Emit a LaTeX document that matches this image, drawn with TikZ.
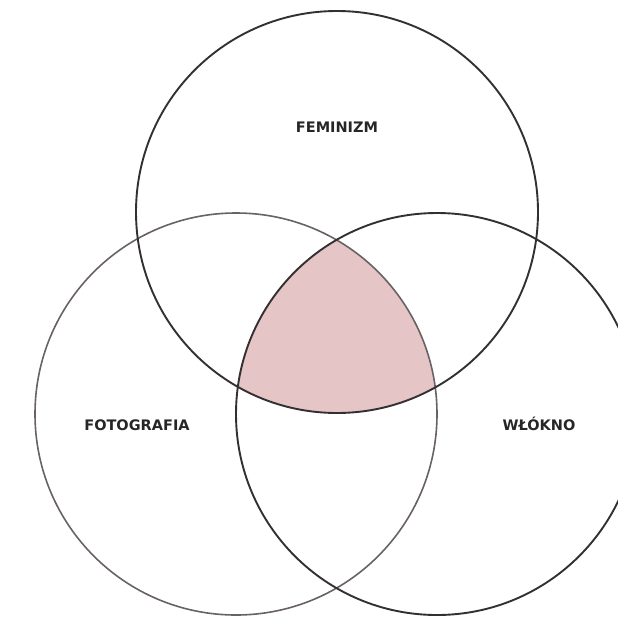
\documentclass[tikz,border=0pt]{standalone}
\usepackage{fontspec}
\setmainfont{DejaVu Sans}
\usepackage{tikz}
\usetikzlibrary{positioning}

\definecolor{overlap}{RGB}{229,197,198}
\definecolor{ringdark}{RGB}{52,48,50}
\definecolor{ringlight}{RGB}{105,98,100}

\begin{document}
\begin{tikzpicture}[
          x=1pt, y=-1pt,
          ring/.style={draw=ringdark, line width=1.9pt},
          setlabel/.style={anchor=base, font=\fontsize{14.5}{16}\selectfont\bfseries, text=black!85}
        ]
          \useasboundingbox (0,0) rectangle (618,616);
          \clip (0,0) rectangle (618,616);

          % Centres of the three sets
          \coordinate (cfem) at (337,212);
          \coordinate (cfot) at (236,414);
          \coordinate (cwlo) at (437,414);

          % Part shared by all three
          \begin{scope}
            \clip (cfem) circle (201pt);
            \clip (cfot) circle (201pt);
            \fill[overlap] (cwlo) circle (201pt);
          \end{scope}

          % Rings
          \draw[ring, draw=ringlight, line width=1.6pt] (cfot) circle (201pt);
          \draw[ring] (cwlo) circle (201pt);
          \draw[ring] (cfem) circle (201pt);

          % Set names
          \node[setlabel] (fem) at (337,132.5) {FEMINIZM};
          \node[setlabel] (fot) at (137,430) {FOTOGRAFIA};
          \node[setlabel] (wlo) at (539,430) {WŁÓKNO};
        \end{tikzpicture}
\end{document}
